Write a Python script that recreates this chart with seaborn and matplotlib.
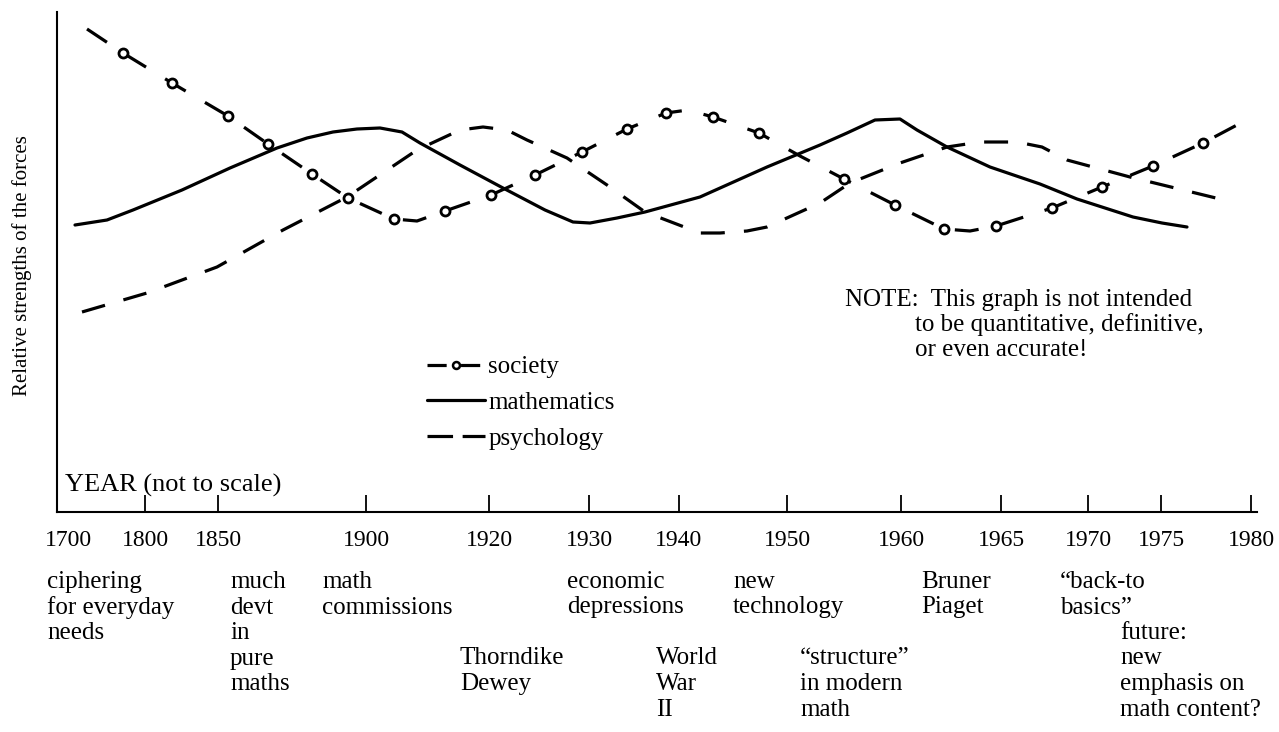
import numpy as np
import pandas as pd
import matplotlib

matplotlib.use('Agg')

import matplotlib.pyplot as plt
import matplotlib.transforms as mtransforms
from matplotlib.lines import Line2D
import seaborn as sns

sns.set_style("white")
plt.rcParams['font.family'] = ['Liberation Serif', 'DejaVu Serif']
plt.rcParams['text.color'] = 'black'
plt.rcParams['xtick.color'] = 'black'
plt.rcParams['axes.labelcolor'] = 'black'

# x = position along the (not to scale) time axis, y = relative strength
society_x = [30, 66, 115, 171, 211, 255, 291, 337, 360, 388, 434, 478, 525, 570, 609, 631, 656,
             702, 743, 787, 838, 887, 913, 939, 995, 1045, 1096, 1146, 1180]
society_y = [96.6, 91.8, 85.8, 79.2, 73.6, 67.6, 62.8, 58.6, 58.2, 60.2, 63.4, 67.4, 72.0, 76.6,
             79.8, 80.4, 79.0, 75.8, 71.2, 66.6, 61.4, 56.6, 56.2, 57.2, 60.8, 65.0, 69.2, 73.8,
             77.4]
society_circles = [1, 2, 3, 4, 5, 6, 7, 9, 10, 11, 12, 13, 14, 16, 17, 19, 20, 21, 23, 24, 25,
                   26, 27]

math_x = [18, 50, 76, 125, 173, 220, 250, 276, 300, 323, 345, 363, 403, 446, 488, 516, 533, 560,
          588, 643, 710, 763, 790, 818, 843, 860, 890, 933, 983, 1020, 1076, 1105, 1130]
math_y = [57.4, 58.4, 60.4, 64.4, 68.8, 72.8, 74.8, 76.0, 76.6, 76.8, 76.0, 73.8, 69.4, 64.8,
          60.4, 58.0, 57.8, 58.8, 60.0, 63.0, 69.0, 73.4, 75.8, 78.4, 78.6, 76.4, 73.0, 69.0,
          65.6, 62.6, 59.0, 57.8, 57.0]

psych_x = [25, 90, 160, 226, 290, 360, 403, 426, 450, 470, 510, 550, 588, 643, 663, 690, 710,
           763, 793, 843, 890, 923, 960, 985, 1010, 1073, 1118, 1163]
psych_y = [40.0, 43.8, 49.0, 56.4, 63.0, 72.4, 76.4, 77.0, 76.4, 74.4, 70.8, 65.4, 60.0, 55.8,
           55.8, 56.2, 57.0, 61.8, 65.8, 69.8, 73.0, 74.0, 74.0, 73.0, 70.4, 67.0, 64.8, 62.6]

years = ["1700", "1800", "1850", "1900", "1920", "1930", "1940", "1950", "1960", "1965",
         "1970", "1975", "1980"]
year_pos = [11, 88, 161, 309, 432, 532, 622, 730, 844, 944, 1031, 1104, 1194]

events = [
    ["ciphering", "for everyday", "needs"],
    ["much", "devt", "in", "pure", "maths"],
    ["math", "commissions"],
    ["Thorndike", "Dewey"],
    ["economic", "depressions"],
    ["World", "War", "II"],
    ["new", "technology"],
    ["\u201cstructure\u201d", "in modern", "math"],
    ["Bruner", "Piaget"],
    ["\u201cback-to", "basics\u201d"],
    ["future:", "new", "emphasis on", "math content?"],
]
event_pos = [-10, 173, 265, 403, 510, 599, 676, 743, 864, 1003, 1063]
event_row = [0, 0, 0, 3, 0, 3, 0, 3, 0, 0, 2]

note_lines = ["NOTE:  This graph is not intended",
              "to be quantitative, definitive,",
              "or even accurate!"]

fs = 18
lw = 2.3

fig = plt.figure(figsize=(12.79, 7.32), dpi=100)
ax = fig.add_axes([57 / 1279, 220 / 732, 1200 / 1279, 500 / 732])

df_soc = pd.DataFrame({"x": society_x, "y": society_y})
df_math = pd.DataFrame({"x": math_x, "y": math_y})
df_psy = pd.DataFrame({"x": psych_x, "y": psych_y})

soc_style = (0, (7.5, 7))
psy_style = (0, (7.5, 6))

sns.lineplot(data=df_psy, x="x", y="y", ax=ax, color="black", lw=lw,
             linestyle=psy_style, sort=False)
sns.lineplot(data=df_math, x="x", y="y", ax=ax, color="black", lw=lw, sort=False)
sns.lineplot(data=df_soc, x="x", y="y", ax=ax, color="black", lw=lw,
             linestyle=soc_style, sort=False, marker="o", markevery=society_circles,
             ms=6.5, mfc="white", mec="black", mew=2)

ax.set_xlim(0, 1200)
ax.set_ylim(0, 100)
ax.set_xlabel("")
ax.set_ylabel("")
ax.set_yticks([])
ax.set_xticks(year_pos)
ax.set_xticklabels(years)
ax.tick_params(axis="x", direction="in", length=12, width=1.3, pad=13,
               labelsize=17, colors="black", bottom=True)
ax.xaxis.get_major_ticks()[0].tick1line.set_visible(False)
for side in ["top", "right"]:
    ax.spines[side].set_visible(False)
for side in ["left", "bottom"]:
    ax.spines[side].set_color("black")
    ax.spines[side].set_linewidth(1.5)

trans = mtransforms.blended_transform_factory(ax.transData, ax.transAxes)
row0 = -70 / 500
row_step = 25.5 / 500
for lines, xpos, r in zip(events, event_pos, event_row):
    for i, line in enumerate(lines):
        ax.text(xpos, row0 - (r + i) * row_step, line, transform=trans,
                ha="left", va="center", fontsize=fs, clip_on=False)

ax.text(8, 27 / 500, "YEAR (not to scale)", transform=trans, ha="left",
        va="center", fontsize=19)

for i, line in enumerate(note_lines):
    ax.text(788 if i == 0 else 858, (212 - i * 25) / 500, line, transform=trans,
            ha="left", va="center", fontsize=fs)

handles = [
    Line2D([], [], color="black", lw=lw, linestyle=(0, (6, 4.5)), marker="o", ms=5,
           mfc="white", mec="black", mew=1.8),
    Line2D([], [], color="black", lw=lw),
    Line2D([], [], color="black", lw=lw, linestyle=(0, (8, 3))),
]
ax.legend(handles, ["society", "mathematics", "psychology"], loc="upper left",
          bbox_to_anchor=(427 / 1279, 1 - 356 / 732), bbox_transform=fig.transFigure,
          frameon=False, fontsize=fs, handlelength=2.3, handletextpad=0.15,
          labelspacing=0.52, borderpad=0, borderaxespad=0)

fig.text(22 / 1279, 1 - 266 / 732, "Relative strengths of the forces", rotation=90,
         ha="center", va="center", fontsize=15)

fig.savefig("out.png", dpi=100)
